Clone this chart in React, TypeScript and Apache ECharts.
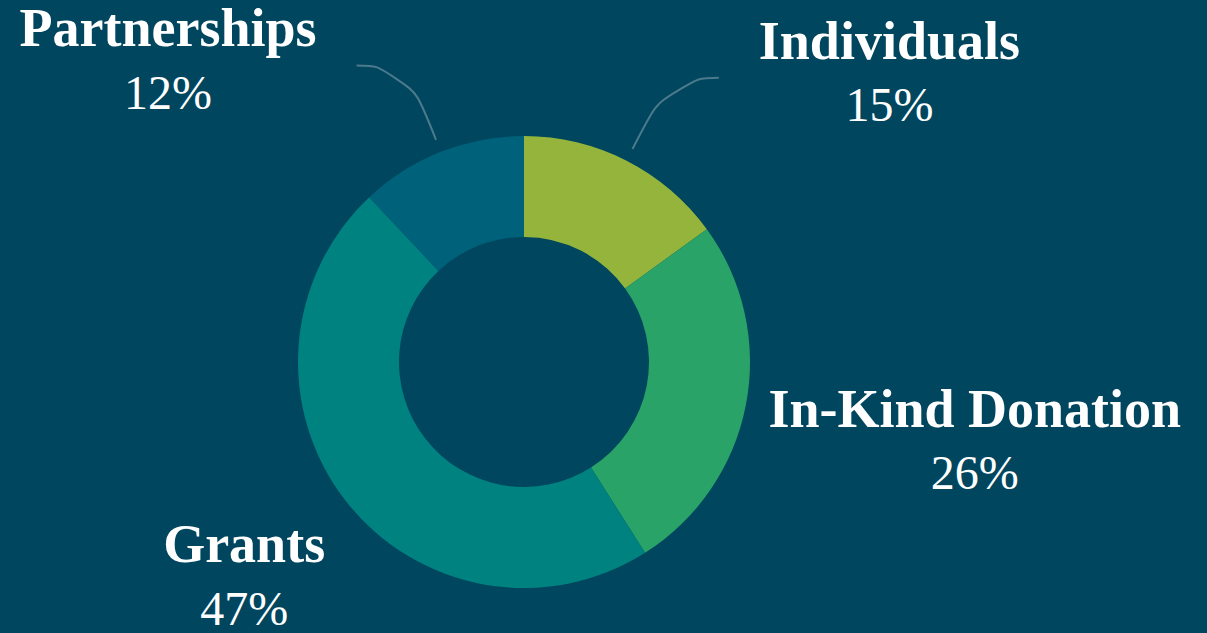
import React, { useEffect, useRef } from "react";
import * as echarts from "echarts";

const categories = ["Individuals", "In-Kind Donation", "Grants", "Partnerships"];
const values = [15, 26, 47, 12];
const colors = ["#94b43c", "#2aa368", "#008280", "#00617a"];
const showGuide = [true, false, false, true];

// label nudges (layout only) for labels without guide lines
const labelNudge: Record<number, { dx: number; dy: number }> = {
  1: { dx: -39, dy: 39 },
  2: { dx: 30, dy: 73 },
};

export default function App() {
  const ref = useRef<HTMLDivElement>(null);
  useEffect(() => {
    if (!ref.current) return;
    const chart = echarts.init(ref.current, null, { renderer: "svg" });
    const center = [524, 362];
    chart.setOption({
      animation: false,
      backgroundColor: "#00465e",
      series: [
        {
          type: "pie",
          center,
          radius: [125, 226],
          startAngle: 90,
          clockwise: true,
          silent: true,
          label: { show: false },
          labelLine: { show: false },
          itemStyle: { borderWidth: 0 },
          data: categories.map((name, i) => ({
            name,
            value: values[i],
            itemStyle: { color: colors[i] },
          })),
        },
        {
          type: "pie",
          center,
          radius: [125, 239],
          startAngle: 90,
          clockwise: true,
          silent: true,
          z: 3,
          itemStyle: { color: "rgba(0,0,0,0)", borderWidth: 0 },
          label: {
            show: true,
            position: "outside",
            distanceToLabelLine: 40,
            bleedMargin: 0,
            color: "#ffffff",
            formatter: (p: any) => `{name|${p.name}}\n{pct|${Math.round(p.percent)}%}`,
            rich: {
              name: {
                fontFamily: "Liberation Serif",
                fontWeight: "bold",
                fontSize: 54,
                lineHeight: 54,
                color: "#ffffff",
                align: "center",
              },
              pct: {
                fontFamily: "Liberation Serif",
                fontWeight: "normal",
                fontSize: 48,
                lineHeight: 74,
                color: "#ffffff",
                align: "center",
              },
            },
          },
          labelLine: {
            show: true,
            length: 80,
            length2: 50,
            smooth: 0.6,
            lineStyle: { color: "#4a7a8c", width: 2 },
          },
          labelLayout: (params: any) => {
            const n = labelNudge[params.dataIndex];
            return n ? { dx: n.dx, dy: n.dy } : {};
          },
          data: categories.map((name, i) => ({
            name,
            value: values[i],
            label: i === 1 ? { width: 430 } : undefined,
            labelLine: showGuide[i]
              ? { show: true }
              : { show: false, length: 0, length2: 0 },
          })),
        },
      ],
    });
    return () => chart.dispose();
  }, []);
  return (
    <div
      ref={ref}
      style={{ position: "fixed", left: 0, top: 0, width: 1207, height: 633 }}
    />
  );
}
